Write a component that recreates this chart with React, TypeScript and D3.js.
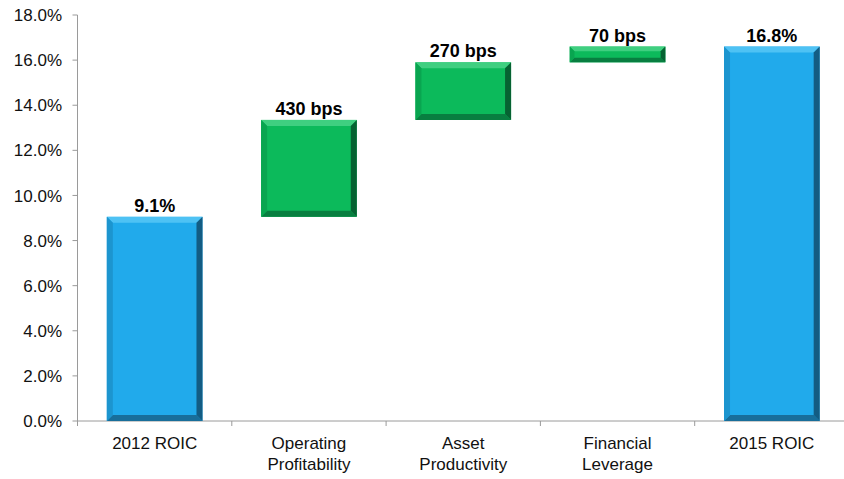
import React from "react";
import * as d3 from "d3";

const categories = ["2012 ROIC", "Operating\nProfitability", "Asset\nProductivity", "Financial\nLeverage", "2015 ROIC"];
const barKinds = ["total", "delta", "delta", "delta", "total"];
const barValues = [9.05, 4.3, 2.55, 0.7, 16.6];
const valueLabels = ["9.1%", "430 bps", "270 bps", "70 bps", "16.8%"];
const yTickValues = [0, 2, 4, 6, 8, 10, 12, 14, 16, 18];

const W = 844;
const H = 479;
const axisX = 77.5;
const axisY = 421;
const step = 154.3;

const palettes: Record<string, any> = {
  total: { face: "#21AAEB", top: "#4EC2F4", left: "#1C95CF", right: "#135C83", bottom: "#186E9A" },
  delta: { face: "#0CBA5B", top: "#3FCF80", left: "#09A550", right: "#066232", bottom: "#087E40" },
};

export default function App() {
  const x = d3.scaleBand<string>().domain(categories).range([axisX, axisX + step * categories.length]).padding(0);
  const y = d3.scaleLinear().domain([0, 18]).range([axisY, 15]);
  const bw = x.bandwidth() * 0.62;

  let running = 0;
  const bars = categories.map((c, i) => {
    let lo: number, hi: number;
    if (barKinds[i] === "total") {
      lo = 0;
      hi = barValues[i];
      running = barValues[i];
    } else {
      lo = running;
      hi = running + barValues[i];
      running = hi;
    }
    const cx = (x(c) as number) + x.bandwidth() / 2;
    return { c, i, x0: cx - bw / 2, x1: cx + bw / 2, y0: y(hi), y1: y(lo), cx, kind: barKinds[i] };
  });

  const font = "'Liberation Sans', Arial, sans-serif";

  return (
    <>
      <style>{`body{margin:0}`}</style>
      <svg width={W} height={H} style={{ display: "block", background: "#fff" }} fontFamily={font}>
        {/* y axis */}
        <line x1={axisX} x2={axisX} y1={y(18)} y2={axisY + 5} stroke="#9a9a9a" strokeWidth={1} />
        {yTickValues.map((t) => (
          <g key={t}>
            <line x1={axisX - 5} x2={axisX} y1={y(t)} y2={y(t)} stroke="#9a9a9a" />
            <text x={62} y={y(t)} dy="0.36em" textAnchor="end" fontSize={17} fill="#111">
              {t.toFixed(1)}%
            </text>
          </g>
        ))}
        {/* x axis */}
        <line x1={axisX} x2={W} y1={axisY} y2={axisY} stroke="#9a9a9a" />
        {categories.map((c, i) =>
          i > 0 ? (
            <line key={c} x1={x(c) as number} x2={x(c) as number} y1={axisY} y2={axisY + 5} stroke="#9a9a9a" />
          ) : null
        )}
        {/* bars */}
        {bars.map((b) => {
          const p = palettes[b.kind];
          const h = b.y1 - b.y0;
          const e = Math.min(6, h * 0.3);
          const { x0, x1, y0, y1 } = b;
          return (
            <g key={b.c}>
              <rect x={x0} y={y0} width={x1 - x0} height={h} fill={p.face} />
              <polygon points={`${x0},${y0} ${x1},${y0} ${x1 - e},${y0 + e} ${x0 + e},${y0 + e}`} fill={p.top} />
              <polygon points={`${x0},${y1} ${x1},${y1} ${x1 - e},${y1 - e} ${x0 + e},${y1 - e}`} fill={p.bottom} />
              <polygon points={`${x0},${y0} ${x0 + e},${y0 + e} ${x0 + e},${y1 - e} ${x0},${y1}`} fill={p.left} />
              <polygon points={`${x1},${y0} ${x1 - e},${y0 + e} ${x1 - e},${y1 - e} ${x1},${y1}`} fill={p.right} />
              <text x={b.cx} y={y0 - 5} textAnchor="middle" fontSize={18} fontWeight="bold" fill="#000">
                {valueLabels[b.i]}
              </text>
            </g>
          );
        })}
        {/* category labels */}
        {categories.map((c) => {
          const lines = c.split("\n");
          const cx = (x(c) as number) + x.bandwidth() / 2;
          return (
            <text key={c} x={cx} y={449} textAnchor="middle" fontSize={17} fill="#111">
              {lines.map((l, k) => (
                <tspan key={k} x={cx} dy={k === 0 ? 0 : 21}>
                  {l}
                </tspan>
              ))}
            </text>
          );
        })}
      </svg>
    </>
  );
}
